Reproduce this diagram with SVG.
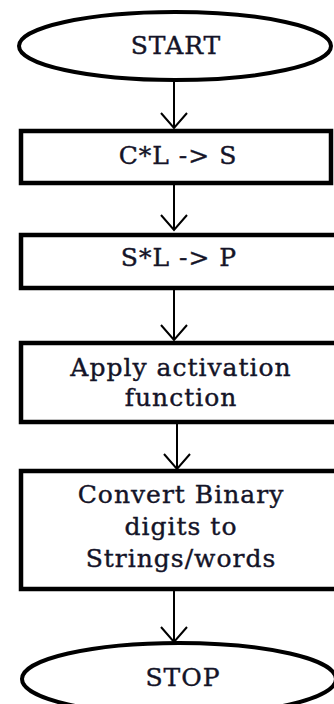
<svg xmlns="http://www.w3.org/2000/svg" width="334" height="704" viewBox="0 0 334 704">
<defs>
<style>
.term{fill:#fff;stroke:#000;stroke-width:4}
.box{fill:#fff;stroke:#000;stroke-width:4.5}
.lbl{font-family:"DejaVu Serif","Liberation Serif",serif;font-size:25px;letter-spacing:1px;fill:#141428;stroke:#141428;stroke-width:0.4;text-anchor:middle}
.edge{stroke:#000;stroke-width:2;fill:none}
</style>
</defs>
<g id="connectors">
<line class="edge" x1="174" y1="80" x2="174" y2="128" />
<path d="M161,113 L174,128 L187,113" class="edge"/>
<line class="edge" x1="174" y1="184" x2="174" y2="230"/>
<path d="M161,215 L174,230 L187,215" class="edge"/>
<line class="edge" x1="174" y1="289" x2="174" y2="340"/>
<path d="M161,325 L174,340 L187,325" class="edge"/>
<line class="edge" x1="177" y1="423" x2="177" y2="469"/>
<path d="M164,454 L177,469 L190,454" class="edge"/>
<line class="edge" x1="174" y1="590" x2="174" y2="642"/>
<path d="M161,627 L174,642 L187,627" class="edge"/>
</g>
<g id="start">
<ellipse class="term" cx="175" cy="46" rx="156" ry="34"/>
<text class="lbl" x="176" y="54">START</text>
</g>
<g id="step1">
<rect class="box" x="21" y="131" width="310" height="52"/>
<text class="lbl" x="178" y="164">C*L -&gt; S</text>
</g>
<g id="step2">
<rect class="box" x="21" y="235" width="330" height="53"/>
<text class="lbl" x="179" y="266">S*L -&gt; P</text>
</g>
<g id="step3">
<rect class="box" x="21" y="343" width="330" height="79"/>
<text class="lbl" x="181" y="376">Apply activation</text>
<text class="lbl" x="181" y="406">function</text>
</g>
<g id="step4">
<rect class="box" x="21" y="471" width="330" height="118"/>
<text class="lbl" x="181" y="503">Convert Binary</text>
<text class="lbl" x="181" y="535">digits to</text>
<text class="lbl" x="181" y="567">Strings/words</text>
</g>
<g id="stop">
<ellipse class="term" cx="179" cy="679" rx="157" ry="36"/>
<text class="lbl" x="183" y="686">STOP</text>
</g>
</svg>
